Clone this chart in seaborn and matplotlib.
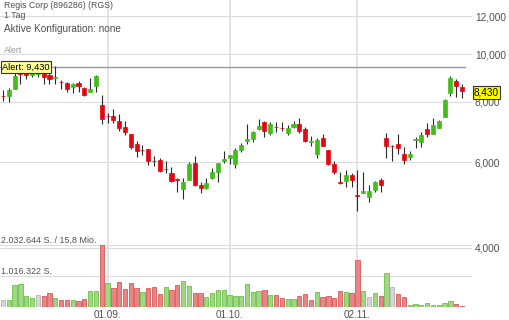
import numpy as np
import pandas as pd
import matplotlib
matplotlib.use("Agg")
import matplotlib.pyplot as plt
import seaborn as sns
from matplotlib.ticker import NullLocator
from matplotlib.transforms import blended_transform_factory, offset_copy
from matplotlib.colors import to_hex

# ---------------- data ----------------
title = "Regis Corp (896286) (RGS)"
period = "1 Tag"
config_text = "Aktive Konfiguration: none"
alert_value = 9430
turnover_text = "15,8 Mio."

opens = [8230, 8215, 8490, 9247, 9247, 9074, 9130, 9210, 9074, 8960,
         8790, 8720, 8590, 8750, 8540, 8380, 8630, 7872, 7480, 7460,
         7305, 7100, 6860, 6540, 6370, 6380, 6050, 6065, 5815, 5715,
         5540, 5280, 5517, 5970, 5400, 5300, 5560, 5740, 6040, 6115,
         5945, 6360, 6625, 6700, 7020, 7260, 6900, 7100, 7060, 6880,
         7100, 7195, 7015, 6620, 6240, 6720, 6360, 5950, 5470, 5500,
         5650, 5150, 5190, 5085, 5260, 5517, 6740, 6490, 6540, 6240,
         6140, 6660, 6600, 7015, 6860, 7050, 7445, 8340, 8820, 8580]
highs = [8450, 8530, 9160, 9420, 9430, 9290, 9380, 9380, 9200, 9470,
         8860, 8780, 8720, 8820, 8570, 8940, 9074, 8265, 7590, 7725,
         7560, 7295, 6860, 6635, 6510, 6390, 6180, 6125, 6035, 5870,
         5570, 5570, 6005, 6180, 5470, 5570, 5840, 5980, 6340, 6220,
         6420, 6575, 7195, 6960, 7365, 7295, 7260, 7270, 7260, 7160,
         7295, 7400, 7090, 6795, 6730, 6860, 6360, 6035, 5720, 5785,
         5705, 5785, 5740, 5390, 5490, 5570, 6900, 6512, 6860, 6440,
         6330, 6750, 6930, 7230, 7400, 7330, 8100, 9030, 8900, 8695]
lows = [8020, 7985, 8490, 8690, 8900, 8990, 8990, 8690, 8690, 8690,
        8490, 8370, 8330, 8370, 8200, 8370, 8370, 7185, 7240, 7230,
        6960, 6830, 6390, 6150, 6210, 5925, 5895, 5730, 5705, 5465,
        5220, 5035, 5510, 5370, 5195, 5290, 5550, 5470, 5970, 5945,
        5840, 6300, 6545, 6605, 6990, 6765, 6830, 6935, 6960, 6830,
        7060, 6895, 6605, 6480, 6125, 6480, 5925, 5680, 5415, 5335,
        5335, 4770, 5190, 4960, 5210, 5210, 6130, 6045, 6255, 5945,
        6065, 6410, 6450, 6765, 6855, 7045, 7440, 8215, 8175, 8135]
closes = [8210, 8450, 9040, 9105, 9087, 9203, 9210, 9000, 8900, 8990,
          8770, 8490, 8680, 8600, 8265, 8480, 9030, 7355, 7465, 7315,
          7050, 6935, 6440, 6340, 6355, 6045, 6035, 5760, 5800, 5500,
          5525, 5470, 5950, 5375, 5320, 5430, 5725, 5970, 6095, 6210,
          6360, 6512, 6690, 6940, 7135, 6970, 7195, 7080, 7045, 7050,
          7195, 6960, 6630, 6640, 6668, 6490, 5940, 5740, 5450, 5650,
          5517, 5125, 5245, 5235, 5455, 5388, 6475, 6475, 6410, 6065,
          6240, 6690, 6828, 6860, 7160, 7295, 8060, 8935, 8610, 8430]
volume = [240000, 220000, 710000, 745000, 360000, 305000, 395000, 350000, 460000, 285000,
          240000, 240000, 240000, 197000, 262000, 535000, 515000, 2032644, 797000, 623000,
          820000, 580000, 787000, 623000, 482000, 623000, 646000, 436000, 666000, 558000,
          731000, 855000, 690000, 470000, 470000, 330000, 470000, 570000, 570000, 390000,
          375000, 355000, 770000, 505000, 525000, 555000, 380000, 385000, 305000, 262000,
          253000, 350000, 436000, 220000, 482000, 338000, 350000, 295000, 515000, 502000,
          469000, 1532000, 515000, 338000, 449000, 350000, 1125000, 656000, 436000, 318000,
          56000, 98000, 75000, 121000, 66000, 66000, 131000, 187000, 108000, 43000]
vol_dir = ["n", "u", "u", "u", "u", "u", "n", "d", "d", "u",
           "d", "d", "u", "d", "d", "u", "u", "d", "u", "d",
           "d", "d", "d", "d", "u", "d", "d", "d", "u", "d",
           "d", "u", "u", "d", "d", "u", "u", "u", "u", "u",
           "u", "u", "u", "u", "u", "d", "u", "d", "d", "u",
           "u", "d", "d", "d", "u", "d", "d", "d", "d", "u",
           "d", "d", "u", "n", "u", "d", "u", "n", "d", "d",
           "u", "u", "u", "u", "u", "u", "u", "u", "d", "d"]
price_ticks = [4000, 6000, 8000, 10000, 12000]
date_pos = [18, 39, 61]
date_labels = ["01.09.", "01.10.", "02.11."]

# ---------------- style ----------------
sns.set_style("white")
plt.rcParams["font.family"] = ["Liberation Sans", "DejaVu Sans"]

GREEN = "#43bd1c"
RED = "#e30613"
WICK = "#2a2a2a"
GRID = "#dcdcdc"
TXT = "#505050"
VOL_FILL = {"u": "#9fd882", "d": "#e98585", "n": "#d6d6d6"}
VOL_EDGE = {"#9fd882": "#6dbf48", "#e98585": "#d65a5a", "#d6d6d6": "#b3b3b3"}

W, H = 510, 320
fig = plt.figure(figsize=(W / 100, H / 100), dpi=100)
AX_R, AX_B = 472, 307
ax = fig.add_axes([0, 1 - AX_B / H, AX_R / W, AX_B / H])
axv = ax.twinx()

idx = np.arange(len(opens))
o = np.array(opens, float)
c = np.array(closes, float)

ax.set_yscale("log")
# candles
ax.vlines(idx, lows, highs, color=WICK, lw=0.8, zorder=3)
body_col = [GREEN if cc >= oo else RED for oo, cc in zip(o, c)]
ax.bar(idx, np.abs(c - o), bottom=np.minimum(o, c), width=0.7,
       color=body_col, edgecolor=body_col, linewidth=0.5, zorder=4)

# volume with seaborn
df = pd.DataFrame({"idx": idx, "volume": volume, "dir": vol_dir})
sns.barplot(data=df, x="idx", y="volume", hue="dir", palette=VOL_FILL,
            dodge=False, native_scale=True, width=0.74, orient="x",
            errorbar=None, legend=False, saturation=1, linewidth=0.6, ax=axv)
for p in axv.patches:
    fc = to_hex(p.get_facecolor())
    p.set_edgecolor(VOL_EDGE.get(fc, fc))

vmax = max(volume)
axv.set_ylim(0, vmax * AX_B / (AX_B - 245))
axv.axhline(vmax, color=GRID, lw=0.8, zorder=0)
axv.axhline(vmax / 2, color=GRID, lw=0.8, zorder=0)
axv.set_yticks([])
axv.set_ylabel("")
axv.set_xlabel("")
axv.grid(False)

# price axis limits (log), x limits
ax.set_ylim(3022, 12947)
ax.set_xlim(-3 / 5.81, (AX_R - 3) / 5.81)
ax.yaxis.tick_right()
ax.set_yticks(price_ticks)
ax.set_yticklabels([f"{t:,}" for t in price_ticks])
ax.yaxis.set_minor_locator(NullLocator())
ax.set_xticks(date_pos)
ax.set_xticklabels(date_labels)
ax.tick_params(axis="y", length=0, pad=2, labelsize=7.3, labelcolor=TXT)
ax.tick_params(axis="x", length=0, pad=2.5, labelsize=7.1, labelcolor=TXT)
ax.grid(axis="y", color=GRID, lw=0.8)
ax.grid(axis="x", color="#e2e2e2", lw=1.3)
ax.set_axisbelow(True)
for a in (ax, axv):
    for s in a.spines.values():
        s.set_visible(False)

# alert line + label
ax.axhline(alert_value, xmin=0, xmax=465 / AX_R, color="#9a9a9a", lw=1, zorder=2)
tr = blended_transform_factory(ax.transAxes, ax.transData)
ax.text(2 / AX_R, alert_value, f"Alert: {alert_value:,}", transform=tr,
        fontsize=6.7, va="center", ha="left", color="black", zorder=6,
        bbox=dict(boxstyle="square,pad=0.15", fc="#ffff99", ec="#333333", lw=0.8))

# last price label
last = closes[-1]
trl = offset_copy(blended_transform_factory(axv.transAxes, ax.transData), fig=fig, x=0, y=-1.8, units="dots")
axv.text(1 + 2 / AX_R, last, f"{last:,}", transform=trl, fontsize=7.2,
         va="center", ha="left", color="black", zorder=10, clip_on=False,
         bbox=dict(boxstyle="square,pad=0.12", fc="#ffff00", ec="#333333", lw=0.8))

# volume labels
def fig_txt(x, y, s, **kw):
    fig.text(x / W, 1 - y / H, s, **kw)

vtxt = f"{vmax:,}".replace(",", ".")
vhalf = f"{vmax // 2:,}".replace(",", ".")
fig_txt(1, 243.3, f"{vtxt} S. / {turnover_text}", fontsize=6.4, color=TXT, va="baseline")
fig_txt(1, 274.3, f"{vhalf} S.", fontsize=6.4, color=TXT, va="baseline")

# header
fig_txt(4, 8.0, title, fontsize=6.3, color=TXT, va="baseline")
fig_txt(4, 18.0, period, fontsize=6.3, color=TXT, va="baseline")
fig_txt(4, 32, config_text, fontsize=7.2, color=TXT, va="baseline")
fig_txt(4, 53.3, "Alert", fontsize=6.4, color="#999999", va="baseline")

fig.savefig("out.png", dpi=100)
